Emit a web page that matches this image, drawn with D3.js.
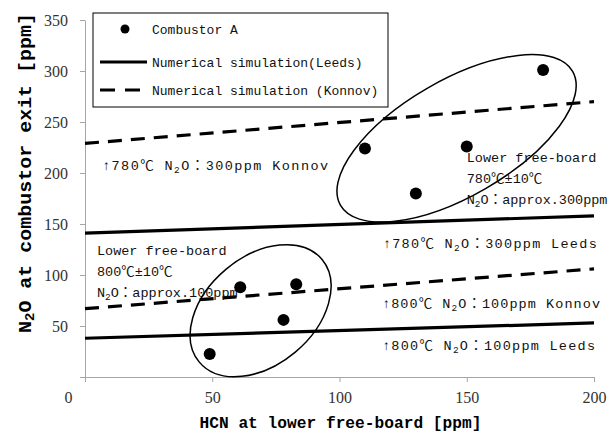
<!DOCTYPE html>
<html>
<head>
<meta charset="utf-8">
<script src="https://cdn.jsdelivr.net/npm/d3@7"></script>
<style>
  body { margin: 0; background: #fff; }
  text { font-family: "Liberation Mono", "Noto Sans CJK JP", monospace; }
</style>
</head>
<body>
<svg id="chart" width="609" height="434"></svg>
<script>
// measured points (Combustor A)
const combustorHCN = [49, 61, 78, 83, 110, 130, 150, 180];
const combustorN2O = [22.5, 88, 56, 91, 224, 180, 226, 301];

// numerical simulation lines, end points at HCN = 0 and 200
const simHCN = [0, 200];
const leeds800 = [38, 53];
const konnov800 = [67, 106];
const leeds780 = [141, 158];
const konnov780 = [229, 270];

const xTicks = [0, 50, 100, 150, 200];
const yTicks = [0, 50, 100, 150, 200, 250, 300, 350];

const legendLabels = ["Combustor A", "Numerical simulation(Leeds)", "Numerical simulation (Konnov)"];

// text notes, anchored in data units (HCN, N2O); fit = width in px of the original
const notes = [
  { lines: ["↑780℃ N₂O：300ppm Konnov"], hcn: 6.7, n2o: 208, fit: 226 },
  { lines: ["Lower free-board", "780℃±10℃", "N₂O：approx.300ppm"], hcn: 150, n2o: 215.5 },
  { lines: ["↑780℃ N₂O：300ppm Leeds"], hcn: 117, n2o: 131.5, fit: 214 },
  { lines: ["Lower free-board", "800℃±10℃", "N₂O：approx.100ppm"], hcn: 4.7, n2o: 124.5 },
  { lines: ["↑800℃ N₂O：100ppm Konnov"], hcn: 116.7, n2o: 72.5, fit: 218 },
  { lines: ["↑800℃ N₂O：100ppm Leeds"], hcn: 116.7, n2o: 31.4, fit: 213 },
];

// hand drawn ellipses round each group
const groups = [
  { hcn: 69, n2o: 65, rx: 80, ry: 54, angle: -40 },
  { hcn: 146, n2o: 234, rx: 134, ry: 58, angle: -30 },
];

const width = 609, height = 434;
const margin = { top: 20, right: 15, bottom: 57, left: 85 };

const svg = d3.select("#chart");

const x = d3.scaleLinear().domain([0, 200]).range([margin.left, width - margin.right]);
const y = d3.scaleLinear().domain([0, 350]).range([height - margin.bottom, margin.top]);

// text with a subscript 2
const writeText = (sel, str) => {
  const parts = str.split("₂");
  parts.forEach((p, i) => {
    if (i > 0) {
      sel.append("tspan").attr("font-size", "0.7em").attr("dy", 3).text("2");
      sel.append("tspan").attr("dy", -3).text(p);
    } else {
      sel.append("tspan").text(p);
    }
  });
};

// axes
const xAxis = svg.append("g")
  .attr("transform", `translate(0,${y(0)})`)
  .call(d3.axisBottom(x).tickValues(xTicks).tickSize(5).tickSizeOuter(0).tickPadding(10));
const yAxis = svg.append("g")
  .attr("transform", `translate(${x(0)},0)`)
  .call(d3.axisLeft(y).tickValues(yTicks).tickSize(5).tickSizeOuter(0).tickPadding(12));

[xAxis, yAxis].forEach((a) => {
  a.selectAll("path, line").attr("stroke", "#a6a6a6");
  a.selectAll("text")
    .style("font-family", '"Liberation Serif", serif')
    .attr("font-size", 16)
    .attr("fill", "#333");
});
yAxis.selectAll(".tick text").filter((d) => d === 0).remove();
xAxis.selectAll(".tick text").filter((d) => d === 0).attr("x", -17);

// axis titles
svg.append("text")
  .attr("x", (margin.left + width - margin.right) / 2 + 1)
  .attr("y", 428)
  .attr("text-anchor", "middle")
  .attr("font-size", 17)
  .attr("font-weight", "bold")
  .attr("textLength", 282)
  .attr("lengthAdjust", "spacingAndGlyphs")
  .text("HCN at lower free-board [ppm]");

const yTitle = svg.append("text")
  .attr("transform", "translate(31,173) rotate(-90)")
  .attr("text-anchor", "middle")
  .attr("font-size", 18)
  .attr("font-weight", "bold")
  .attr("textLength", 320)
  .attr("lengthAdjust", "spacingAndGlyphs");
writeText(yTitle, "N₂O at combustor exit [ppm]");

// simulation lines
const simLines = [
  { values: leeds800, dash: null },
  { values: konnov800, dash: "14,9" },
  { values: leeds780, dash: null },
  { values: konnov780, dash: "14,9" },
];
const line = d3.line().x((d, i) => x(simHCN[i])).y((d) => y(d));
svg.append("g").selectAll("path")
  .data(simLines)
  .join("path")
  .attr("d", (d) => line(d.values))
  .attr("fill", "none")
  .attr("stroke", "#000")
  .attr("stroke-width", 3.2)
  .attr("stroke-dasharray", (d) => d.dash);

// ellipses
svg.append("g").selectAll("ellipse")
  .data(groups)
  .join("ellipse")
  .attr("transform", (d) => `translate(${x(d.hcn)},${y(d.n2o)}) rotate(${d.angle})`)
  .attr("rx", (d) => d.rx)
  .attr("ry", (d) => d.ry)
  .attr("fill", "none")
  .attr("stroke", "#000")
  .attr("stroke-width", 1.5);

// points
svg.append("g").selectAll("circle")
  .data(combustorHCN)
  .join("circle")
  .attr("cx", (d) => x(d))
  .attr("cy", (d, i) => y(combustorN2O[i]))
  .attr("r", 6)
  .attr("fill", "#000");

// notes
notes.forEach((n) => {
  n.lines.forEach((l, i) => {
    const t = svg.append("text")
      .attr("x", x(n.hcn))
      .attr("y", y(n.n2o) + i * 21)
      .attr("dy", "0.35em")
      .attr("font-size", 13.5)
      .attr("fill", "#111");
    if (n.fit) t.attr("textLength", n.fit).attr("lengthAdjust", "spacing");
    writeText(t, l);
  });
});

// legend
const legend = svg.append("g").attr("transform", "translate(93,13)");
legend.append("rect")
  .attr("width", 295)
  .attr("height", 94)
  .attr("fill", "#fff")
  .attr("stroke", "#000")
  .attr("stroke-width", 1);
const rows = [16, 49, 77];
legend.append("circle").attr("cx", 32).attr("cy", rows[0]).attr("r", 4.5).attr("fill", "#000");
legend.append("line").attr("x1", 7).attr("x2", 54).attr("y1", rows[1]).attr("y2", rows[1])
  .attr("stroke", "#000").attr("stroke-width", 3.2);
legend.append("line").attr("x1", 7).attr("x2", 54).attr("y1", rows[2]).attr("y2", rows[2])
  .attr("stroke", "#000").attr("stroke-width", 3.2).attr("stroke-dasharray", "15,10");
legend.selectAll("text.lab")
  .data(legendLabels)
  .join("text")
  .attr("class", "lab")
  .attr("x", 59)
  .attr("y", (d, i) => rows[i])
  .attr("dy", "0.35em")
  .attr("font-size", 13)
  .attr("fill", "#111")
  .text((d) => d);
</script>
</body>
</html>
